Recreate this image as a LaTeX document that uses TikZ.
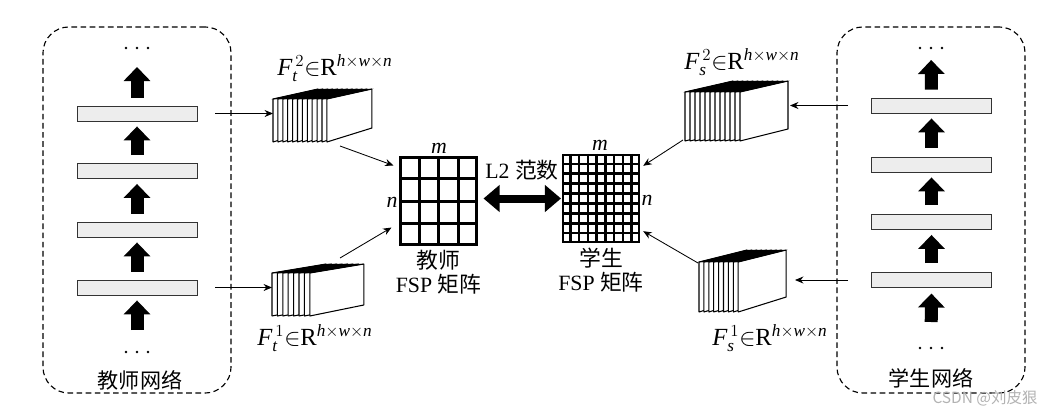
\documentclass[tikz,border=0pt]{standalone}
\usepackage{fontspec}
\setmainfont{Liberation Serif}
\newfontfamily\cjk{Noto Sans CJK SC}
\usepackage{tikz}
\usetikzlibrary{positioning,calc,arrows.meta}

\begin{document}
\begin{tikzpicture}[x=0.025cm, y=-0.025cm,
    % style for the layer bars of both networks
    layerbar/.style={
        draw=black!80, line width=0.6pt, fill=black!7,
        minimum width=3cm, minimum height=0.375cm, inner sep=0pt
    },
    % style for the dashed network frames
    netframe/.style={
        draw, dash pattern=on 4pt off 2.5pt, line width=0.8pt,
        rounded corners=0.65cm, minimum width=4.7cm, minimum height=9.15cm
    },
    % style for the thick arrows between layers
    blockarrow/.style={
        line width=0.325cm, -{Triangle[length=0.35cm,width=0.65cm]},
        shorten <=0.2cm, shorten >=0.125cm
    },
    % style for the thin connectors
    link/.style={line width=0.6pt, -{Stealth[length=6pt,width=5pt]}},
    % style for one slice of a feature map stack
    slice/.style={draw, fill=white, line width=0.75pt, line join=bevel},
    % style for the dark top of a stack
    stacktop/.style={fill=black, draw=black, line width=0.3pt},
    % text styles
    maptext/.style={font=\fontsize{17.5}{20}\selectfont},
    cntext/.style={font=\fontsize{15}{18}\selectfont\cjk},
    mattext/.style={font=\fontsize{15.5}{17.5}\selectfont, align=center, inner sep=0pt}
]
    \useasboundingbox (0,0) rectangle (1044,409);

    % --- 1. Teacher network (left) ---
    \node[netframe] (TNet) at (137,210) {};
    \foreach \i/\y in {1/287.5,2/229.5,3/171,4/113.5} {
        \node[layerbar] (TL\i) at (137,\y) {};
    }
    \coordinate (TDtop) at (137,48);
    \coordinate (TDbot) at (137,352);
    \foreach \k in {-1,0,1} {
        \fill ($(TDtop)+(\k*11,0)$) circle (0.035cm);
        \fill ($(TDbot)+(\k*11,0)$) circle (0.035cm);
    }
    \foreach \i/\j in {1/2,2/3,3/4} {
        \draw[blockarrow] (TL\i.north) -- (TL\j.south);
    }
    \draw[blockarrow, shorten >=0.475cm] (TL4.north) -- (TDtop);
    \draw[blockarrow, shorten <=0.55cm] (TDbot) -- (TL1.south);
    \node[cntext] (TNlab) at (140,380) {教师网络};

    % --- 2. Student network (right) ---
    \node[netframe] (SNet) at (931,210) {};
    \foreach \i/\y in {1/280,2/222,3/164.5,4/105.5} {
        \node[layerbar] (SR\i) at (931.5,\y) {};
    }
    \coordinate (SDtop) at (931,48);
    \coordinate (SDbot) at (931,348);
    \foreach \k in {-1,0,1} {
        \fill ($(SDtop)+(\k*11,0)$) circle (0.035cm);
        \fill ($(SDbot)+(\k*11,0)$) circle (0.035cm);
    }
    \foreach \i/\j in {1/2,2/3,3/4} {
        \draw[blockarrow, shorten <=0.225cm] (SR\i.north) -- (SR\j.south);
    }
    \draw[blockarrow, shorten >=0.3cm] (SR4.north) -- (SDtop);
    \draw[blockarrow, shorten <=0.65cm, shorten >=0.14cm] (SDbot) -- (SR1.south);
    \node[cntext] (SNlab) at (931,378) {学生网络};

    % --- 3. Feature map stacks ---
    \foreach \i in {0,...,11} {
        \draw[slice] (273+\i*4.9,99) -- ++(45,-10) -- ++(0,39) -- ++(-45,14) -- cycle;
    }
    \filldraw[stacktop] (273,99) -- (318,89) -- (371.9,89) -- (326.9,99) -- cycle;
    \foreach \i in {0,...,7} {
        \draw[slice] (272+\i*5.4,273) -- ++(54,-9) -- ++(0,41) -- ++(-54,11) -- cycle;
    }
    \filldraw[stacktop] (272,273) -- (326,264) -- (363.8,264) -- (309.8,273) -- cycle;
    \foreach \i in {0,...,11} {
        \draw[slice] (685+\i*5,92) -- ++(48,-11) -- ++(0,48) -- ++(-48,12) -- cycle;
    }
    \filldraw[stacktop] (685,92) -- (733,81) -- (788,81) -- (740,92) -- cycle;
    \foreach \i in {0,...,8} {
        \draw[slice] (699+\i*4.9,262) -- ++(48,-12) -- ++(0,47) -- ++(-48,15) -- cycle;
    }
    \filldraw[stacktop] (699,262) -- (747,250) -- (786.2,250) -- (738.2,262) -- cycle;
    \coordinate (Ft2in) at (273,113.5);  \coordinate (Ft2out) at (340,146);
    \coordinate (Ft1in) at (272,287.5);  \coordinate (Ft1out) at (340,258);
    \coordinate (Fs2in) at (790,105.5);  \coordinate (Fs2out) at (683,140);
    \coordinate (Fs1in) at (795,280);    \coordinate (Fs1out) at (698,263);

    \node[maptext] (Ft2lab) at (335,68)  {$\mathit{F}_{\mathit{t}}^{\,2}{\in}\mathrm{R}^{\mathit{h}\times \mathit{w}\times \mathit{n}}$};
    \node[maptext] (Ft1lab) at (315,338) {$\mathit{F}_{\mathit{t}}^{\,1}{\in}\mathrm{R}^{\mathit{h}\times \mathit{w}\times \mathit{n}}$};
    \node[maptext] (Fs2lab) at (742,62)  {$\mathit{F}_{\mathit{s}}^{\,2}{\in}\mathrm{R}^{\mathit{h}\times \mathit{w}\times \mathit{n}}$};
    \node[maptext] (Fs1lab) at (770,338) {$\mathit{F}_{\mathit{s}}^{\,1}{\in}\mathrm{R}^{\mathit{h}\times \mathit{w}\times \mathit{n}}$};

    % --- 4. FSP matrices ---
    \node[draw, line width=0.075cm, minimum width=1.875cm, minimum height=2.15cm, inner sep=0pt] (TM) at (438.5,201) {};
    \foreach \k in {1,2,3} {
        \draw[line width=0.075cm] ($(TM.north west)!\k/4!(TM.north east)$) -- ($(TM.south west)!\k/4!(TM.south east)$);
        \draw[line width=0.075cm] ($(TM.north west)!\k/4!(TM.south west)$) -- ($(TM.north east)!\k/4!(TM.south east)$);
    }
    \node[draw, line width=0.06cm, minimum width=1.9cm, minimum height=2.175cm, inner sep=0pt] (SM) at (601,198.5) {};
    \foreach \k in {1,...,8} {
        \draw[line width=0.06cm] ($(SM.north west)!\k/9!(SM.north east)$) -- ($(SM.south west)!\k/9!(SM.south east)$);
        \draw[line width=0.06cm] ($(SM.north west)!\k/9!(SM.south west)$) -- ($(SM.north east)!\k/9!(SM.south east)$);
    }
    \node[mattext] (TMm) at (439,148) {$\mathit{m}$};
    \node[mattext] (TMn) at (392,202) {$\mathit{n}$};
    \node[mattext] (SMm) at (600,145) {$\mathit{m}$};
    \node[mattext] (SMn) at (647,200) {$\mathit{n}$};
    \node[mattext, below=0.1cm of TM] (TMlab) {{\cjk 教师}\\FSP {\cjk 矩阵}};
    \node[mattext, below=0.1cm of SM] (SMlab) {{\cjk 学生}\\FSP {\cjk 矩阵}};

    % --- 5. L2 norm between the matrices ---
    \draw[line width=0.2cm, {Triangle[length=0.4cm,width=0.65cm]}-{Triangle[length=0.4cm,width=0.65cm]},
          shorten <=0.15cm, shorten >=0.02cm] (TM.east |- SM.west) -- (SM.west);
    \node[mattext] (L2) at (522,170) {L2 {\cjk 范数}};

    % --- 6. Connectors ---
    \draw[link] ([xshift=0.45cm]TL4.east) -- (Ft2in);
    \draw[link] ([xshift=0.45cm]TL1.east) -- (Ft1in);
    \draw[link] ([xshift=-0.575cm]SR4.west) -- (Fs2in);
    \draw[link] ([xshift=-0.575cm]SR1.west) -- (Fs1in);
    \draw[link] (Ft2out) -- ([shift={(-6,9)}]TM.north west);
    \draw[link] (Ft1out) -- ([shift={(-8,-18)}]TM.south west);
    \draw[link] (Fs2out) -- ([shift={(3,12)}]SM.north east);
    \draw[link] (Fs1out) -- ([shift={(3,-12)}]SM.south east);

    % watermark
    \node[text=black!30, font=\fontsize{11}{13}\selectfont\cjk] (mark) at (985,398) {CSDN @刘皮狠};
\end{tikzpicture}
\end{document}
